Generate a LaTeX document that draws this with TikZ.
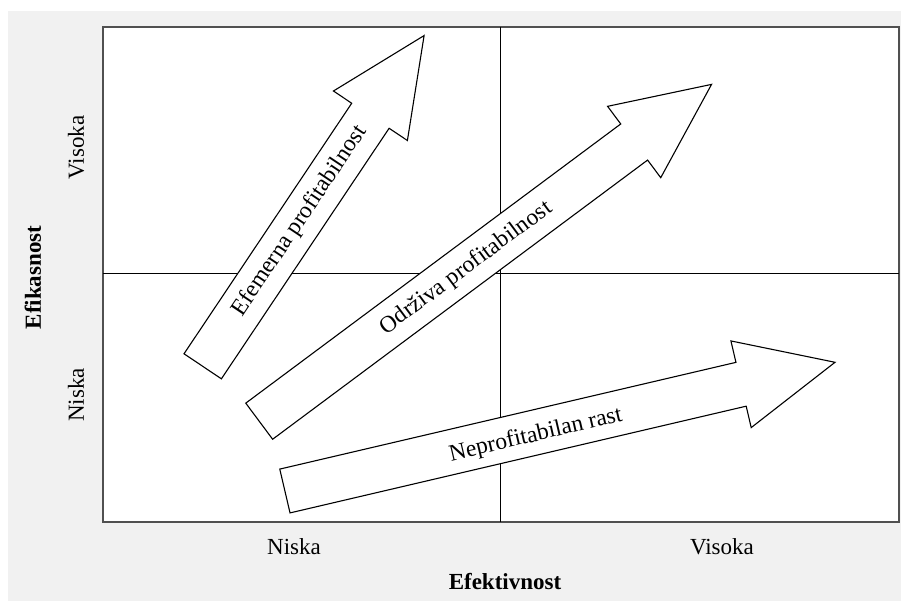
\documentclass[tikz,border=0pt]{standalone}
\usepackage{fontspec}
\setmainfont{Liberation Serif}
\definecolor{panelgray}{RGB}{241,241,241}
\definecolor{framegray}{RGB}{80,80,80}
\tikzset{
  panel/.style={fill=panelgray, draw=none},
  frame/.style={draw=framegray, line width=1.8pt, fill=white},
  divider/.style={draw=black, line width=0.9pt},
  blockarrow/.style={draw=black, line width=1.1pt, fill=white, line join=miter},
  arrowtext/.style={inner sep=0pt, font=\fontsize{23.5}{27}\selectfont},
  axislabel/.style={inner sep=0pt, font=\fontsize{23}{27}\selectfont},
  axistitle/.style={inner sep=0pt, font=\fontsize{23}{27}\selectfont\bfseries}
}
% block arrow along the local x axis: tail at the origin, tip at #1
\newcommand{\blockarrowpath}[1]{%
  \draw[blockarrow] (0,-22.5) -- (#1-96.5,-22.5) -- (#1-96.5,-44.5) -- (#1,0)
    -- (#1-96.5,44.5) -- (#1-96.5,22.5) -- (0,22.5) -- cycle;}
\begin{document}
\begin{tikzpicture}[x=1pt,y=-1pt]
  \useasboundingbox (0,0) rectangle (901,601);
  \fill[white] (0,0) rectangle (901,601);
  \path[panel] (8,11) rectangle (901,601);

  % quadrant frame
  \path[frame] (103,27) rectangle (899,522);
  \coordinate (top) at (500,27);
  \coordinate (bottom) at (500,522);
  \coordinate (left) at (103,273);
  \coordinate (right) at (899,273);
  \draw[divider] (top) -- (bottom);
  \draw[divider] (left) -- (right);

  % Efemerna profitabilnost
  \begin{scope}[shift={(202.7,366.3)}, rotate=56.2]
    \blockarrowpath{398}
    \node[arrowtext, rotate=56.2] (efem) at (175,0) {Efemerna profitabilnost};
  \end{scope}

  % Odrziva profitabilnost
  \begin{scope}[shift={(259.2,421.2)}, rotate=36.67]
    \blockarrowpath{564}
    \node[arrowtext, rotate=36.67] (odrz) at (257.5,1) {Održiva profitabilnost};
  \end{scope}

  % Neprofitabilan rast
  \begin{scope}[shift={(284.9,491)}, rotate=13.17]
    \blockarrowpath{565}
    \node[arrowtext, rotate=13.17] (nepr) at (257,3) {Neprofitabilan rast};
  \end{scope}

  % axis labels
  \node[axislabel] (xlow) at (294,547) {Niska};
  \node[axislabel] (xhigh) at (722,547) {Visoka};
  \node[axistitle] (xtitle) at (505,582) {Efektivnost};
  \node[axislabel, rotate=90] (yhigh) at (76,147.5) {Visoka};
  \node[axislabel, rotate=90] (ylow) at (76,395) {Niska};
  \node[axistitle, rotate=90] (ytitle) at (33,277.5) {Efikasnost};
\end{tikzpicture}
\end{document}
